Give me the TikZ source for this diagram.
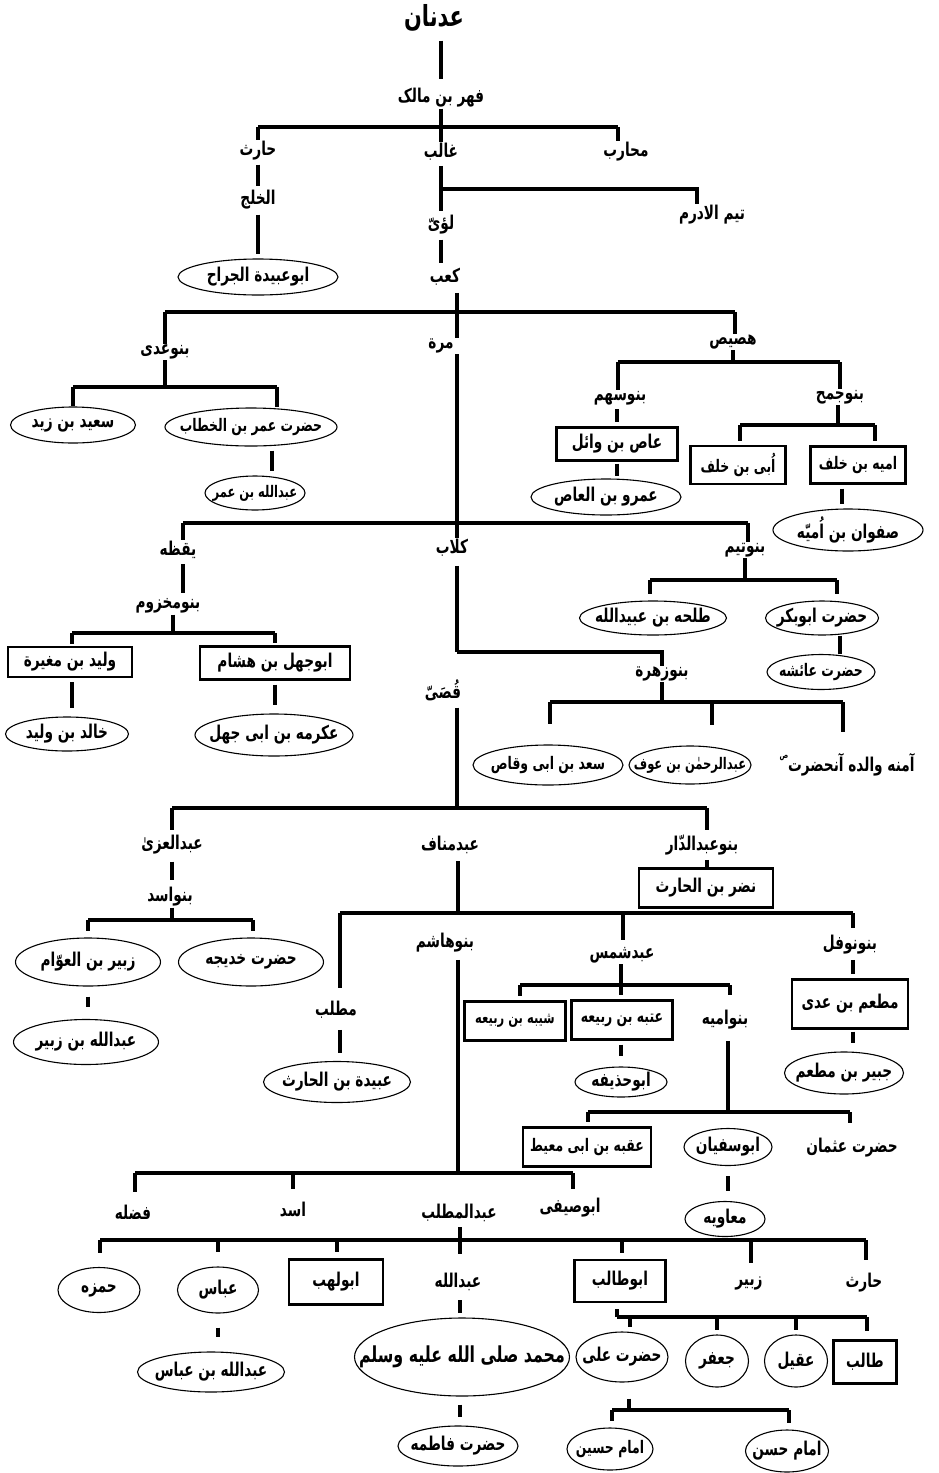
\documentclass[tikz,border=0pt]{standalone}
\usepackage{fontspec}
\usetikzlibrary{shapes.geometric}
\TeXXeTstate=1
\newfontfamily\urdu[Script=Arabic,FakeStretch=0.72]{DejaVu Sans}
\newcommand\R[1]{\beginR#1\endR}
\newcommand\saw{\raisebox{1.3ex}{\fontsize{9}{9}\selectfont ص}}
\begin{document}
\begin{tikzpicture}[x=1pt,y=-1pt,
 every node/.style={font=\urdu\bfseries\fontsize{19}{21}\selectfont,inner sep=1pt},
 sm/.style={font=\urdu\bfseries\fontsize{17.3}{19}\selectfont},
 xs/.style={font=\urdu\bfseries\fontsize{16}{18}\selectfont},
 ln/.style={line width=4.5pt},
 ell/.style 2 args={draw,ellipse,line width=1.1pt,inner xsep=-40pt,inner ysep=-9pt,minimum width=#1,minimum height=#2},
 box/.style 2 args={draw,rectangle,line width=2.4pt,inner sep=0pt,minimum width=#1,minimum height=#2},
 big/.style={font=\urdu\bfseries\fontsize{29}{31}\selectfont},
]
\fill[white] (0,0) rectangle (939,1473);
\useasboundingbox (0,0) rectangle (939,1473);

% ---------- top ----------
\node[big] (adnan) at (434,18) {\R{عدنان}};
\node (fihr) at (441,98) {\R{فهر بن مالک}};
\coordinate (j0) at (441,127);
\coordinate (j0a) at (258,127);
\coordinate (j0b) at (618,127);
\node (harith) at (258,151) {\R{حارث}};
\node (ghalib) at (441,152) {\R{غالب}};
\node (muharib) at (626,152) {\R{محارب}};
\draw[ln,shorten <=8pt,shorten >=8pt] (j0 |- adnan.south) -- (j0 |- fihr.north);
\draw[ln] (j0 |- fihr.south) -- (j0 |- ghalib.north);
\draw[ln] (j0a) -- (j0b);
\draw[ln] (j0a) -- (j0a |- harith.north);
\draw[ln] (j0b) -- (j0b |- muharib.north);

\node (khalaj) at (258,200) {\R{الخلج}};
\node[ell={160}{36}] (jarrah) at (258,277) {\R{ابوعبیدة الجراح}};
\draw[ln,shorten <=3pt,shorten >=3pt] (harith.south) -- (khalaj.north);
\draw[ln,shorten <=4pt,shorten >=4pt] (khalaj.south) -- (jarrah.north);

\coordinate (jg) at (441,189);
\coordinate (jt) at (697,189);
\node (luayy) at (441,225) {\R{لؤیّ}};
\node (taym) at (712,215) {\R{تیم الادرم}};
\node (kaab) at (445,277) {\R{کعب}};
\draw[ln,shorten <=4pt,shorten >=3pt] (jg |- ghalib.south) -- (jg |- luayy.north);
\draw[ln] (jg) -- (jt) -- (jt |- taym.north);
\draw[ln,shorten <=4pt,shorten >=4pt] (jg |- luayy.south) -- (jg |- kaab.north);

% ---------- Kaab ----------
\coordinate (jk) at (457,312);
\coordinate (jk1) at (165,312);
\coordinate (jk2) at (735,312);
\node (murra) at (441,346) {\R{مرة}};
\node (banuadi) at (165,352) {\R{بنوعدی}};
\node (husays) at (733,342) {\R{هصیص}};
\draw[ln,shorten <=6pt] (jk |- kaab.south) -- (jk |- murra.north);
\draw[ln] (jk1) -- (jk2);
\draw[ln] (jk1) -- (jk1 |- banuadi.north);
\draw[ln] (jk2) -- (jk2 |- husays.north);

% Banu Adi
\coordinate (ja) at (165,387);
\coordinate (ja1) at (73,387);
\coordinate (ja2) at (277,387);
\node[ell={125}{36}] (saeed) at (73,425) {\R{سعید بن زید}};
\node[ell={172}{38},sm] (omar) at (251,427) {\R{حضرت عمر بن الخطاب}};
\node[ell={100}{34},xs] (abdomar) at (255,493) {\R{عبدالله بن عمر}};
\coordinate (jo) at (272,460);
\draw[ln] (ja |- banuadi.south) -- (ja);
\draw[ln] (ja1) -- (ja2);
\draw[ln] (ja1) -- (ja1 |- saeed.north);
\draw[ln] (ja2) -- (ja2 |- omar.north);
\draw[ln,shorten <=4pt,shorten >=4pt] (jo |- omar.south) -- (jo |- abdomar.north);

% Husays
\coordinate (jh) at (733,362);
\coordinate (jh1) at (618,362);
\coordinate (jh2) at (840,362);
\node (banusahm) at (620,398) {\R{بنوسهم}};
\node (banujumah) at (840,397) {\R{بنوجمح}};
\draw[ln] (jh |- husays.south) -- (jh);
\draw[ln] (jh1) -- (jh2);
\draw[ln] (jh1) -- (jh1 |- banusahm.north);
\draw[ln] (jh2) -- (jh2 |- banujumah.north);
\node[box={121}{33}] (aas) at (617,444) {\R{عاص بن وائل}};
\node[ell={150}{36}] (amr) at (606,497) {\R{عمرو بن العاص}};
\draw[ln,shorten <=3pt,shorten >=4pt] (aas.north |- banusahm.south) -- (aas.north);
\draw[ln,shorten <=2pt,shorten >=2pt] (aas.south) -- (aas.south |- amr.north);

\coordinate (jj) at (838,425);
\coordinate (jj1) at (740,425);
\coordinate (jj2) at (875,425);
\node[box={95}{38},sm] (ubayy) at (738,465) {\R{اُبی بن خلف}};
\node[box={95}{37},sm] (umayya) at (858,465) {\R{امیه بن خلف}};
\node[ell={150}{42}] (safwan) at (848,530) {\R{صفوان بن اُمیّه}};
\coordinate (js0) at (842,500);
\draw[ln] (jj |- banujumah.south) -- (jj);
\draw[ln] (jj1) -- (jj2);
\draw[ln,shorten >=4pt] (jj1) -- (jj1 |- ubayy.north);
\draw[ln,shorten >=4pt] (jj2) -- (jj2 |- umayya.north);
\draw[ln,shorten <=4pt,shorten >=4pt] (js0 |- umayya.south) -- (js0 |- safwan.north);

% ---------- Murra ----------
\coordinate (jm) at (457,523);
\coordinate (jm1) at (183,523);
\coordinate (jm2) at (748,523);
\node (kilab) at (452,548) {\R{کلاب}};
\node (yaqaza) at (178,550) {\R{یقظه}};
\node (banutaym) at (745,550) {\R{بنوتیم}};
\draw[ln] (jm |- murra.south) -- (jm |- kilab.north);
\draw[ln] (jm1) -- (jm2);
\draw[ln] (jm1) -- (jm1 |- yaqaza.north);
\draw[ln] (jm2) -- (jm2 |- banutaym.north);

% Yaqaza
\node (makhzum) at (168,606) {\R{بنومخزوم}};
\draw[ln,shorten <=4pt,shorten >=4pt] (jm1 |- yaqaza.south) -- (jm1 |- makhzum.north);
\coordinate (jz) at (173,633);
\coordinate (jz1) at (72,633);
\coordinate (jz2) at (275,633);
\node[box={124}{30}] (walid) at (70,662) {\R{ولید بن مغیرة}};
\node[box={150}{33}] (abujahl) at (275,663) {\R{ابوجهل بن هشام}};
\node[ell={123}{34}] (khalid) at (67,734) {\R{خالد بن ولید}};
\node[ell={158}{42}] (ikrima) at (274,735) {\R{عکرمه بن ابی جهل}};
\draw[ln] (jz |- makhzum.south) -- (jz);
\draw[ln] (jz1) -- (jz2);
\draw[ln,shorten >=2pt] (jz1) -- (jz1 |- walid.north);
\draw[ln,shorten >=2pt] (jz2) -- (jz2 |- abujahl.north);
\draw[ln,shorten <=4pt,shorten >=8pt] (jz1 |- walid.south) -- (jz1 |- khalid.north);
\draw[ln,shorten <=4pt,shorten >=8pt] (jz2 |- abujahl.south) -- (jz2 |- ikrima.north);

% Banu Taym
\coordinate (jy) at (745,580);
\coordinate (jy1) at (650,580);
\coordinate (jy2) at (837,580);
\node[ell={147}{34}] (talha) at (653,618) {\R{طلحه بن عبیدالله}};
\node[ell={113}{34}] (abubakr) at (822,618) {\R{حضرت ابوبکر}};
\node[ell={108}{35},sm] (aisha) at (821,672) {\R{حضرت عائشه}};
\coordinate (jab) at (840,640);
\draw[ln] (jy |- banutaym.south) -- (jy);
\draw[ln] (jy1) -- (jy2);
\draw[ln,shorten >=6pt] (jy1) -- (jy1 |- talha.north);
\draw[ln,shorten >=6pt] (jy2) -- (jy2 |- abubakr.north);
\draw[ln] (jab |- abubakr.south) -- (jab |- aisha.north);

% Kilab
\coordinate (jq) at (457,652);
\coordinate (jq1) at (662,652);
\node (banuzuhra) at (662,674) {\R{بنوزهرة}};
\node (qusayy) at (443,690) {\R{قُصَیّ}};
\draw[ln,shorten <=8pt] (jq |- kilab.south) -- (jq);
\draw[ln] (jq) -- (jq1) -- (jq1 |- banuzuhra.north);

% Banu Zuhra
\coordinate (jb) at (662,702);
\coordinate (jb1) at (550,702);
\coordinate (jb2) at (712,702);
\coordinate (jb3) at (843,702);
\node[ell={150}{40},sm] (saad) at (548,765) {\R{سعد بن ابی وقاص}};
\node[ell={122}{38},xs] (awf) at (690,765) {\R{عبدالرحمٰن بن عوف}};
\node (amina) at (847,765) {\R{آمنه والده آنحضرت\saw}};
\draw[ln] (jb |- banuzuhra.south) -- (jb);
\draw[ln] (jb1) -- (jb3);
\draw[ln,shorten >=20pt] (jb1) -- (jb1 |- saad.north);
\draw[ln,shorten >=20pt] (jb2) -- (jb2 |- awf.north);
\draw[ln,shorten >=20pt] (jb3) -- (jb3 |- amina.north);

% ---------- Qusayy ----------
\coordinate (jc) at (457,808);
\coordinate (jc1) at (172,808);
\coordinate (jc2) at (707,808);
\node (uzza) at (172,845) {\R{عبدالعزیٰ}};
\node (manaf) at (450,845) {\R{عبدمناف}};
\node (abddar) at (702,845) {\R{بنوعبدالدّار}};
\draw[ln,shorten <=6pt] (jc |- qusayy.south) -- (jc);
\draw[ln] (jc1) -- (jc2);
\draw[ln,shorten >=4pt] (jc1) -- (jc1 |- uzza.north);
\draw[ln,shorten >=4pt] (jc2) -- (jc2 |- abddar.north);

% Abd al-Uzza
\node (banuasad) at (170,897) {\R{بنواسد}};
\draw[ln,shorten <=6pt,shorten >=6pt] (jc1 |- uzza.south) -- (jc1 |- banuasad.north);
\coordinate (jsa) at (172,920);
\coordinate (jsa1) at (88,920);
\coordinate (jsa2) at (253,920);
\node[ell={145}{48}] (zubayr) at (88,962) {\R{زبیر بن العوّام}};
\node[ell={145}{48}] (khadija) at (251,962) {\R{حضرت خدیجه}};
\node[ell={145}{45}] (abdzubayr) at (86,1042) {\R{عبدالله بن زبیر}};
\draw[ln] (jsa |- banuasad.south) -- (jsa);
\draw[ln] (jsa1) -- (jsa2);
\draw[ln,shorten >=6pt] (jsa1) -- (jsa1 |- zubayr.north);
\draw[ln,shorten >=6pt] (jsa2) -- (jsa2 |- khadija.north);
\draw[ln,shorten <=10pt,shorten >=12pt] (jsa1 |- zubayr.south) -- (jsa1 |- abdzubayr.north);

% Banu Abd al-Dar
\node[box={134}{39}] (nadr) at (706,888) {\R{نضر بن الحارث}};
\draw[ln,shorten <=4pt] (jc2 |- abddar.south) -- (jc2 |- nadr.north);

% Abd Manaf
\coordinate (jn) at (458,913);
\coordinate (jn1) at (340,913);
\coordinate (jn2) at (623,913);
\coordinate (jn3) at (853,913);
\node (hashim) at (445,943) {\R{بنوهاشم}};
\node (muttalib) at (336,1010) {\R{مطلب}};
\node (abdshams) at (622,955) {\R{عبدشمس}};
\node (nawfal) at (850,945) {\R{بنونوفل}};
\draw[ln,shorten <=6pt] (jn |- manaf.south) -- (jn);
\draw[ln] (jn1) -- (jn3);
\draw[ln,shorten >=12pt] (jn1) -- (jn1 |- muttalib.north);
\draw[ln,shorten >=6pt] (jn2) -- (jn2 |- abdshams.north);
\draw[ln,shorten >=6pt] (jn3) -- (jn3 |- nawfal.north);
\node[ell={147}{41}] (ubayda) at (337,1082) {\R{عبیدة بن الحارث}};
\draw[ln,shorten <=10pt,shorten >=8pt] (jn1 |- muttalib.south) -- (jn1 |- ubayda.north);

% Abd Shams
\coordinate (jsh) at (621,985);
\coordinate (jsh1) at (520,985);
\coordinate (jsh2) at (730,985);
\node[box={101}{39},xs] (shayba) at (515,1021) {\R{شیبه بن ربیعه}};
\node[box={101}{39},sm] (utba) at (622,1020) {\R{عتبه بن ربیعه}};
\node (umayyad) at (725,1020) {\R{بنوامیه}};
\node[ell={92}{30}] (hudhayfa) at (621,1082) {\R{ابوحذیفه}};
\draw[ln] (jsh |- abdshams.south) -- (jsh);
\draw[ln] (jsh1) -- (jsh2);
\draw[ln,shorten >=4pt] (jsh1) -- (jsh1 |- shayba.north);
\draw[ln,shorten >=4pt] (jsh) -- (jsh |- utba.north);
\draw[ln,shorten >=14pt] (jsh2) -- (jsh2 |- umayyad.north);
\draw[ln,shorten <=4pt,shorten >=10pt] (jsh |- utba.south) -- (jsh |- hudhayfa.north);

% Banu Umayya
\coordinate (ju) at (728,1112);
\coordinate (ju1) at (588,1112);
\coordinate (ju2) at (850,1112);
\node[box={128}{39},sm] (uqba) at (587,1147) {\R{عقبه بن ابی معیط}};
\node[ell={88}{37}] (sufyan) at (728,1147) {\R{ابوسفیان}};
\node (uthman) at (852,1148) {\R{حضرت عثمان}};
\node[ell={80}{35}] (muawiya) at (725,1219) {\R{معاویه}};
\draw[ln,shorten <=10pt] (ju |- umayyad.south) -- (ju);
\draw[ln] (ju1) -- (ju2);
\draw[ln,shorten >=4pt] (ju1) -- (ju1 |- uqba.north);
\draw[ln,shorten >=14pt] (ju2) -- (ju2 |- uthman.north);
\draw[ln,shorten <=10pt,shorten >=10pt] (ju |- sufyan.south) -- (ju |- muawiya.north);

% Banu Nawfal
\node[box={116}{49}] (mutim) at (850,1004) {\R{مطعم بن عدی}};
\node[ell={119}{42}] (jubayr) at (844,1073) {\R{جبیر بن مطعم}};
\draw[ln,shorten <=4pt,shorten >=4pt] (jn3 |- nawfal.south) -- (jn3 |- mutim.north);
\draw[ln,shorten <=2pt,shorten >=8pt] (jn3 |- mutim.south) -- (jn3 |- jubayr.north);

% ---------- Banu Hashim ----------
\coordinate (jw) at (458,1173);
\coordinate (jw1) at (135,1173);
\coordinate (jw2) at (293,1173);
\coordinate (jw3) at (573,1173);
\node (fadla) at (133,1212) {\R{فضله}};
\node (asad) at (293,1210) {\R{اسد}};
\node (muttalib2) at (459,1213) {\R{عبدالمطلب}};
\node (sayfi) at (570,1208) {\R{ابوصیفی}};
\draw[ln,shorten <=6pt] (jw |- hashim.south) -- (jw);
\draw[ln] (jw1) -- (jw3);
\draw[ln,shorten >=12pt] (jw1) -- (jw1 |- fadla.north);
\draw[ln,shorten >=12pt] (jw2) -- (jw2 |- asad.north);
\draw[ln,shorten >=8pt] (jw3) -- (jw3 |- sayfi.north);

% Abd al-Muttalib
\coordinate (jx) at (460,1240);
\coordinate (jx1) at (100,1240);
\coordinate (jx2) at (218,1240);
\coordinate (jx3) at (337,1240);
\coordinate (jx4) at (622,1240);
\coordinate (jx5) at (751,1240);
\coordinate (jx6) at (866,1240);
\node[ell={82}{45}] (hamza) at (99,1290) {\R{حمزه}};
\node[ell={81}{46}] (abbas) at (218,1290) {\R{عباس}};
\node[box={94}{45}] (lahab) at (336,1282) {\R{ابولهب}};
\node (abdullah) at (458,1282) {\R{عبدالله}};
\node[box={91}{42}] (talib) at (620,1281) {\R{ابوطالب}};
\node (zubayr2) at (749,1283) {\R{زبیر}};
\node (harith2) at (864,1283) {\R{حارث}};
\draw[ln,shorten <=4pt] (jx |- muttalib2.south) -- (jx);
\draw[ln,shorten >=18pt] (jx) -- (jx |- abdullah.north);
\draw[ln] (jx1) -- (jx6);
\draw[ln,shorten >=14pt] (jx1) -- (jx1 |- hamza.north);
\draw[ln,shorten >=14pt] (jx2) -- (jx2 |- abbas.north);
\draw[ln,shorten >=6pt] (jx3) -- (jx3 |- lahab.north);
\draw[ln,shorten >=6pt] (jx4) -- (jx4 |- talib.north);
\draw[ln,shorten >=12pt] (jx5) -- (jx5 |- zubayr2.north);
\draw[ln,shorten >=12pt] (jx6) -- (jx6 |- harith2.north);

\node[ell={147}{40}] (abdabbas) at (211,1372) {\R{عبدالله بن عباس}};
\draw[ln,shorten <=14pt,shorten >=14pt] (jx2 |- abbas.south) -- (jx2 |- abdabbas.north);

\node[ell={215}{78},font=\urdu\bfseries\fontsize{22}{24}\selectfont] (muhammad) at (462,1357) {\R{محمد صلی الله علیه وسلم}};
\node[ell={120}{40}] (fatima) at (458,1446) {\R{حضرت فاطمه}};
\draw[ln,shorten <=8pt,shorten >=4pt] (jx |- abdullah.south) -- (jx |- muhammad.north);
\draw[ln,shorten <=8pt,shorten >=8pt] (jx |- muhammad.south) -- (jx |- fatima.north);

% Abu Talib
\coordinate (jv) at (617,1317);
\coordinate (jv1) at (630,1317);
\coordinate (jv2) at (717,1317);
\coordinate (jv3) at (796,1317);
\coordinate (jv4) at (867,1317);
\node[ell={92}{50}] (ali) at (622,1357) {\R{حضرت علی}};
\node[ell={63}{52}] (jafar) at (717,1361) {\R{جعفر}};
\node[ell={63}{52}] (aqil) at (796,1361) {\R{عقیل}};
\node[box={63}{43}] (talib2) at (865,1362) {\R{طالب}};
\draw[ln,shorten <=6pt] (jv |- talib.south) -- (jv);
\draw[ln] (jv) -- (jv4);
\draw[ln,shorten >=4pt] (jv1) -- (jv1 |- ali.north);
\draw[ln,shorten >=4pt] (jv2) -- (jv2 |- jafar.north);
\draw[ln,shorten >=4pt] (jv3) -- (jv3 |- aqil.north);
\draw[ln,shorten >=8pt] (jv4) -- (jv4 |- talib2.north);

% Ali
\coordinate (ji) at (629,1410);
\coordinate (ji1) at (612,1410);
\coordinate (ji2) at (789,1410);
\node[ell={86}{42},sm] (husayn) at (610,1449) {\R{امام حسین}};
\node[ell={83}{42}] (hasan) at (787,1451) {\R{امام حسن}};
\draw[ln,shorten <=16pt] (ji |- ali.south) -- (ji);
\draw[ln] (ji1) -- (ji2);
\draw[ln,shorten >=6pt] (ji1) -- (ji1 |- husayn.north);
\draw[ln,shorten >=6pt] (ji2) -- (ji2 |- hasan.north);
\end{tikzpicture}
\end{document}
